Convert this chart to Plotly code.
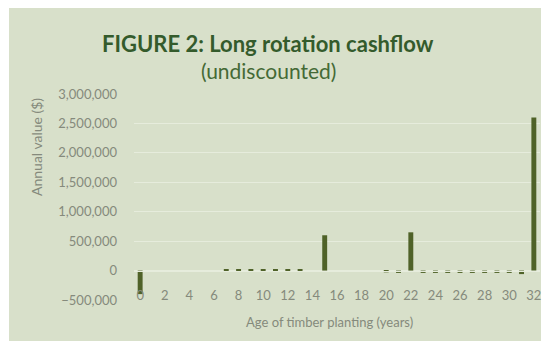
import plotly.graph_objects as go

# Age of the planting (years) and the undiscounted net cashflow for each year ($)
years = list(range(33))
cashflow = [
    -400000, 0, 0, 0, 0, 0, 0,
    15000, 15000, 15000, 15000, 15000, 15000, 15000,
    0, 600000, 0, 0, 0, 0,
    -30000, -40000, 650000,
    -40000, -40000, -40000, -40000, -40000, -40000, -40000, -40000,
    -60000, 2600000,
]
y_ticks = [-500000, 0, 500000, 1000000, 1500000, 2000000, 2500000, 3000000]

W, H = 546, 343
ML, MR, MT, MB = 134, 6, 94, 43
PW, PH = W - ML - MR, H - MT - MB


def px_x(px):
    return (px - ML) / PW


def px_y(py):
    return (H - MB - py) / PH


SAGE = "#d8e0ca"
GRID = "#e6ecdc"
BAR = "#4f6228"
LABEL = "#858a7c"
FONT = "Lato"

fig = go.Figure(
    go.Bar(
        x=years,
        y=cashflow,
        marker=dict(color=BAR, line=dict(width=0)),
        width=0.4,
        hoverinfo="x+y",
    )
)

y_min, y_max = -500000, 3000000

fig.update_layout(
    width=W,
    height=H,
    margin=dict(l=ML, r=MR, t=MT, b=MB, pad=0),
    paper_bgcolor="white",
    plot_bgcolor="rgba(0,0,0,0)",
    showlegend=False,
    font=dict(family=FONT, color=LABEL, size=12),
    shapes=[
        dict(
            type="rect", xref="paper", yref="paper", layer="below",
            x0=px_x(9), x1=px_x(541), y0=px_y(341), y1=px_y(8),
            fillcolor=SAGE, line=dict(width=0),
        )
    ],
    annotations=[
        dict(
            text="<b>FIGURE 2: Long rotation cashflow</b>",
            xref="paper", yref="paper", x=px_x(268), y=px_y(43),
            xanchor="center", yanchor="middle", showarrow=False,
            font=dict(family=FONT, size=22, color="#345b2c"),
        ),
        dict(
            text="(undiscounted)",
            xref="paper", yref="paper", x=px_x(268), y=px_y(70),
            xanchor="center", yanchor="middle", showarrow=False,
            font=dict(family=FONT, size=21, color="#446a36"),
        ),
        # axis titles
        dict(
            text="Annual value ($)",
            xref="paper", yref="paper", x=px_x(36), y=px_y(147),
            xanchor="center", yanchor="middle", showarrow=False,
            textangle=-90,
            font=dict(family=FONT, size=14, color=LABEL),
        ),
        dict(
            text="Age of timber planting (years)",
            xref="paper", yref="paper", x=px_x(329), y=px_y(322),
            xanchor="center", yanchor="middle", showarrow=False,
            font=dict(family=FONT, size=13, color=LABEL),
        ),
    ],
    xaxis=dict(
        range=[-0.5, 32.5],
        tickmode="linear", tick0=0, dtick=2,
        showgrid=False, zeroline=False,
        showline=True, linecolor=GRID, linewidth=1,
        anchor="free", position=(0 - y_min) / (y_max - y_min),
        ticks="", ticklabelstandoff=13,
        tickfont=dict(family=FONT, size=13, color=LABEL),
    ),
    yaxis=dict(
        range=[y_min, y_max],
        tickmode="array", tickvals=y_ticks,
        tickformat=",d",
        showgrid=True, gridcolor=GRID, gridwidth=1,
        zeroline=False, showline=False,
        ticks="", ticklabelstandoff=16,
        tickfont=dict(family=FONT, size=13, color=LABEL),
    ),
    bargap=0.6,
)

fig.write_html("out.html")
